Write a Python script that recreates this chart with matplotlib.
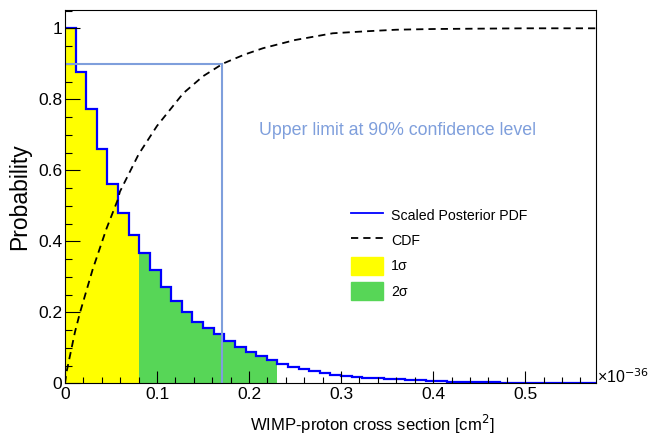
import numpy as np
import matplotlib
matplotlib.use("Agg")
import matplotlib.pyplot as plt
from matplotlib.lines import Line2D
from matplotlib.patches import Patch
from matplotlib.ticker import MultipleLocator, FuncFormatter

plt.rcParams['font.family'] = ['Liberation Sans', 'DejaVu Sans']

# histogram of the scaled posterior pdf (50 bins from 0 to 0.577 x 1e-36 cm^2)
x_min, x_max, n_bins = 0.0, 0.577, 50
pdf = [1.0, 0.876, 0.772, 0.659, 0.561, 0.481, 0.418, 0.366, 0.319, 0.272,
       0.233, 0.200, 0.172, 0.155, 0.139, 0.120, 0.103, 0.089, 0.077, 0.066,
       0.053, 0.045, 0.041, 0.035, 0.029, 0.024, 0.021, 0.019, 0.016, 0.014,
       0.012, 0.011, 0.010, 0.008, 0.007, 0.006, 0.005, 0.004, 0.004, 0.003,
       0.003, 0.002, 0.002, 0.002, 0.001, 0.001, 0.001, 0.001, 0.001, 0.0005]
n_1sigma = 7    # bins in the 1 sigma band
n_2sigma = 20   # bins up to the end of the 2 sigma band

# CDF
cdf_x = [0.0, 0.0018, 0.0109, 0.0163, 0.03, 0.045, 0.0572, 0.0597, 0.08, 0.10,
         0.1285, 0.15, 0.172, 0.195, 0.2153, 0.25, 0.291, 0.33, 0.36, 0.40,
         0.45, 0.50, 0.577]
cdf_y = [0.0, 0.033, 0.145, 0.199, 0.32, 0.435, 0.516, 0.54, 0.645, 0.725,
         0.817, 0.865, 0.901, 0.926, 0.944, 0.967, 0.986, 0.992, 0.996, 0.998,
         0.999, 1.0, 1.0]

upper_limit = 0.1705
cl = 0.9

edges = np.linspace(x_min, x_max, n_bins + 1)

fig = plt.figure(figsize=(6.61, 4.34), dpi=100)
ax = fig.add_axes([0.0983, 0.1168, 0.8034, 0.8602])

yellow = '#ffff00'
green = '#57d657'
blue = '#0000ff'
lblue = '#7f9fdc'

ax.stairs(pdf[:n_1sigma], edges[:n_1sigma + 1], fill=True, color=yellow, lw=0)
ax.stairs(pdf[n_1sigma:n_2sigma], edges[n_1sigma:n_2sigma + 1], fill=True, color=green, lw=0)
ax.stairs(pdf, edges, color=blue, lw=1.6, baseline=None)

ax.plot([x_min, upper_limit], [cl, cl], color=lblue, lw=1.5)
ax.plot([upper_limit, upper_limit], [0, cl], color=lblue, lw=1.5)

ax.plot(cdf_x, cdf_y, color='black', lw=1.3, ls=(0, (4, 2.8)))

ax.text(0.3616, 0.711, 'Upper limit at 90% confidence level', color=lblue,
        fontsize=12.8, ha='center', va='center')

handles = [Line2D([], [], color=blue, lw=1.3),
           Line2D([], [], color='black', lw=1.3, ls=(0, (4, 2.8))),
           Patch(color=yellow), Patch(color=green)]
labels = ['Scaled Posterior PDF', 'CDF', '1σ', '2σ']
ax.legend(handles, labels, loc='upper left', bbox_to_anchor=(0.527, 0.49),
          frameon=False, fontsize=10.2, handlelength=2.3, handleheight=1.6,
          handletextpad=0.55, labelspacing=0.5, borderaxespad=0)

ax.set_xlim(x_min, x_max)
ax.set_ylim(0, 1.0516)
ax.xaxis.set_major_locator(MultipleLocator(0.1))
ax.xaxis.set_minor_locator(MultipleLocator(0.02))
ax.yaxis.set_major_locator(MultipleLocator(0.2))
ax.yaxis.set_minor_locator(MultipleLocator(0.05))
fmt = FuncFormatter(lambda v, p: '%g' % round(v, 3))
ax.xaxis.set_major_formatter(fmt)
ax.yaxis.set_major_formatter(fmt)
ax.tick_params(which='both', direction='in', top=False, right=False, labelsize=12.5, width=0.8)
ax.tick_params(axis='x', which='major', length=8.5, pad=3)
ax.tick_params(axis='x', which='minor', length=4)
ax.tick_params(axis='y', which='major', length=10.5, pad=2)
ax.tick_params(axis='y', which='minor', length=5)
for s in ax.spines.values():
    s.set_linewidth(0.8)

ax.set_xlabel('WIMP-proton cross section [cm$^2$]', fontsize=12)
ax.xaxis.set_label_coords(0.578, -0.078)
ax.set_ylabel('Probability', fontsize=16.5)
ax.yaxis.set_label_coords(-0.064, 0.5)
ax.text(1.002, 0.018, '×10$^{-36}$', transform=ax.transAxes, fontsize=11.5,
        ha='left', va='center')

fig.savefig('out.png', dpi=100)
